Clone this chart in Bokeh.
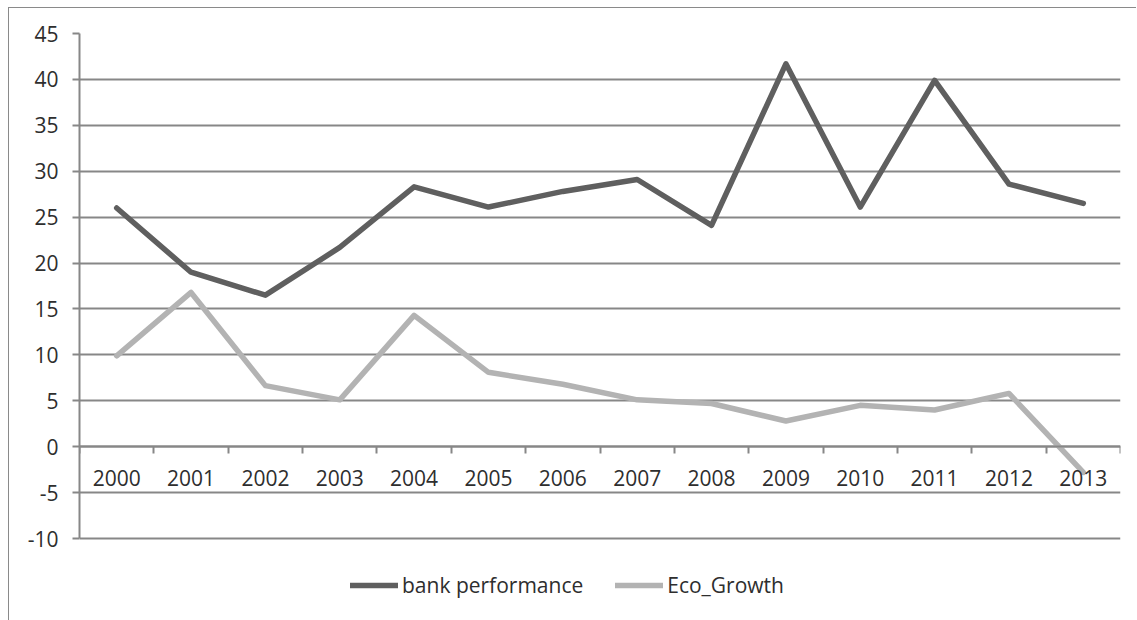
from bokeh.plotting import figure
from bokeh.models import (Range1d, LinearAxis, FixedTicker, Legend, LegendItem)
from bokeh.embed import file_html
from bokeh.resources import INLINE

years = ["2000", "2001", "2002", "2003", "2004", "2005", "2006",
         "2007", "2008", "2009", "2010", "2011", "2012", "2013"]
bank_performance = [26.0, 19.0, 16.5, 21.7, 28.3, 26.1, 27.8,
                    29.1, 24.1, 41.7, 26.1, 39.9, 28.6, 26.5]
eco_growth = [9.9, 16.8, 6.65, 5.1, 14.3, 8.1, 6.8,
              5.1, 4.7, 2.8, 4.5, 4.0, 5.8, -2.8]
y_ticks = [-10, -5, 0, 5, 10, 15, 20, 25, 30, 35, 40, 45]

FONT = "Open Sans"
GRID = "#878787"
TXT = "#2e2e2e"

xs = [i + 0.5 for i in range(len(years))]

# frame reaches down to the legend row; the value axis is bounded to -10..45
p = figure(width=1128, height=613, output_backend="svg", toolbar_location=None,
           x_range=Range1d(0, len(years)), y_range=Range1d(-17.95, 45),
           x_axis_location=None, min_border_left=70, min_border_right=17,
           min_border_top=25, min_border_bottom=10,
           margin=(7, 0, 0, 8),
           styles={"border-left": "1px solid #8a8a8a", "border-top": "1px solid #8a8a8a"})
p.outline_line_color = None
p.xgrid.visible = False
p.ygrid.ticker = FixedTicker(ticks=y_ticks)
p.ygrid.grid_line_color = GRID
p.ygrid.grid_line_width = 2

ya = p.yaxis[0]
ya.bounds = (-10, 45)
ya.ticker = FixedTicker(ticks=y_ticks)
ya.major_label_overrides = {t: str(t) for t in y_ticks}
ya.axis_line_color = GRID
ya.axis_line_width = 2
ya.major_tick_line_color = GRID
ya.major_tick_line_width = 2
ya.major_tick_out = 7
ya.major_tick_in = 0
ya.minor_tick_line_color = None
ya.major_label_standoff = 14
ya.major_label_text_font = FONT
ya.major_label_text_font_size = "21px"
ya.major_label_text_color = TXT

# category axis crossing at zero: boundary ticks
xa_ticks = LinearAxis(fixed_location=0,
                      ticker=FixedTicker(ticks=list(range(len(years) + 1))))
xa_ticks.axis_line_color = GRID
xa_ticks.axis_line_width = 2
xa_ticks.major_tick_line_color = GRID
xa_ticks.major_tick_line_width = 2
xa_ticks.major_tick_out = 7
xa_ticks.major_tick_in = 0
xa_ticks.minor_tick_line_color = None
xa_ticks.major_label_text_alpha = 0
p.add_layout(xa_ticks, "below")

# labels at category centers
xa_lab = LinearAxis(fixed_location=0, ticker=FixedTicker(ticks=xs),
                    major_label_overrides={x: y for x, y in zip(xs, years)})
xa_lab.axis_line_color = None
xa_lab.major_tick_line_color = None
xa_lab.minor_tick_line_color = None
xa_lab.major_label_standoff = 17
xa_lab.major_label_text_font = FONT
xa_lab.major_label_text_font_size = "21px"
xa_lab.major_label_text_color = TXT
p.add_layout(xa_lab, "below")

r1 = p.line(xs, bank_performance, line_color="#5f5f5f", line_width=5.5,
            line_join="round", line_cap="round")
r2 = p.line(xs, eco_growth, line_color="#b3b3b3", line_width=5.5,
            line_join="round", line_cap="round")

legend = Legend(items=[LegendItem(label="bank performance", renderers=[r1]),
                       LegendItem(label="Eco_Growth", renderers=[r2])],
                orientation="horizontal", location=(271, 12),
                glyph_width=48, glyph_height=24, label_height=24,
                label_standoff=4, spacing=32, padding=0, margin=0,
                border_line_color=None, background_fill_alpha=0,
                label_text_font=FONT, label_text_font_size="21px",
                label_text_color=TXT)
p.add_layout(legend, "center")

open("out.html", "w").write(file_html(p, INLINE))
